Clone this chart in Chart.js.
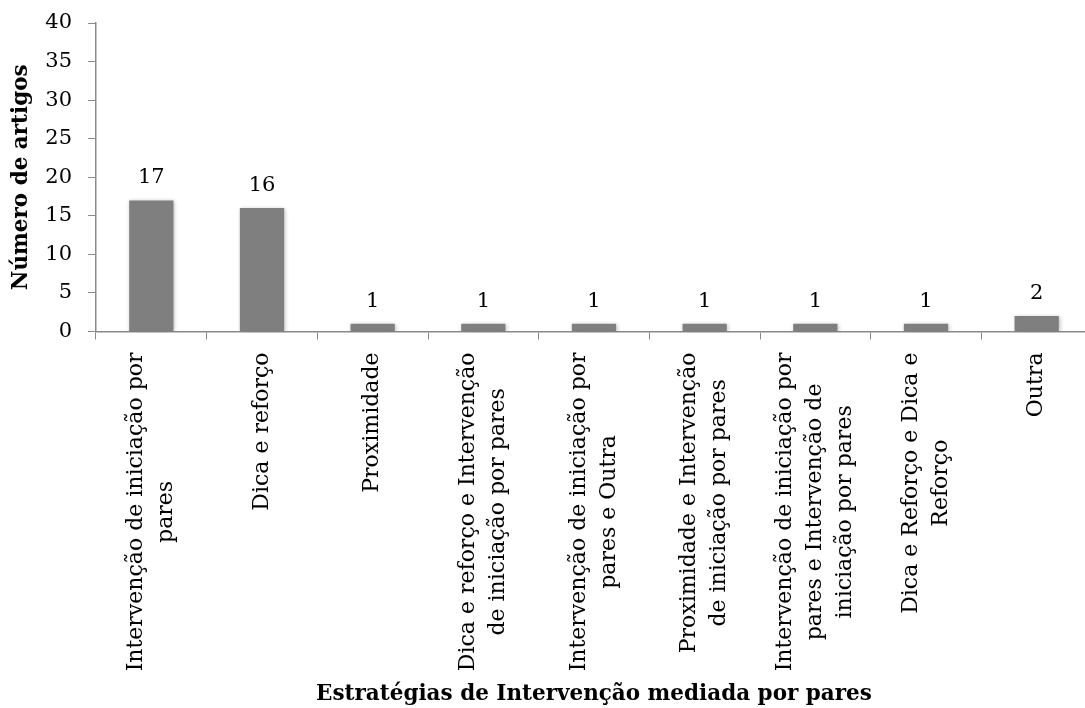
<!DOCTYPE html>
<html lang="pt">
<head>
  <meta charset="UTF-8">
  <title>Estratégias de Intervenção mediada por pares</title>
  <script src="https://cdn.jsdelivr.net/npm/chart.js"></script>
  <style>
    * { margin: 0; padding: 0; box-sizing: border-box; }
    body { background: #fff; overflow: hidden; width: 1085px; height: 708px; }
    .chart-box { position: relative; width: 1092px; height: 708px; }
  </style>
</head>
<body>
  <div class="chart-box">
    <canvas id="estrategiasChart"></canvas>
  </div>

  <script>
    // Categories (each entry = lines of the rotated axis label)
    const categorias = [
      ['Intervenção de iniciação por', 'pares'],
      ['Dica e reforço'],
      ['Proximidade'],
      ['Dica e reforço e Intervenção', 'de iniciação por pares'],
      ['Intervenção de iniciação por', 'pares e Outra'],
      ['Proximidade e Intervenção', 'de iniciação por pares'],
      ['Intervenção de iniciação por', 'pares e Intervenção de', 'iniciação por pares'],
      ['Dica e Reforço e Dica e', 'Reforço'],
      ['Outra']
    ];
    const numeroArtigos = [17, 16, 1, 1, 1, 1, 1, 1, 2];
    const yTicks = [0, 5, 10, 15, 20, 25, 30, 35, 40];

    const serif = "'DejaVu Serif', serif";
    const axisGray = '#8a8a8a';

    // soft shadow under the bars
    const barShadow = {
      id: 'barShadow',
      beforeDatasetsDraw(chart) {
        const ctx = chart.ctx;
        ctx.save();
        ctx.shadowColor = 'rgba(0,0,0,0.28)';
        ctx.shadowBlur = 4;
        ctx.shadowOffsetX = 1;
        ctx.shadowOffsetY = 1;
      },
      afterDatasetsDraw(chart) {
        chart.ctx.restore();
      }
    };

    // value above each bar
    const valueLabels = {
      id: 'valueLabels',
      afterDatasetsDraw(chart) {
        const ctx = chart.ctx;
        const meta = chart.getDatasetMeta(0);
        ctx.save();
        ctx.font = '21px ' + serif;
        ctx.fillStyle = '#000';
        ctx.textAlign = 'center';
        ctx.textBaseline = 'alphabetic';
        meta.data.forEach((bar, i) => {
          ctx.fillText(String(numeroArtigos[i]), bar.x, bar.y - 17);
        });
        ctx.restore();
      }
    };

    // rotated category labels, lines centred on each other
    const categoryLabels = {
      id: 'categoryLabels',
      afterDraw(chart) {
        const ctx = chart.ctx;
        const xScale = chart.scales.x;
        const top = xScale.top + 21;
        const lineH = 30;
        ctx.save();
        ctx.font = '22px ' + serif;
        ctx.fillStyle = '#000';
        ctx.textAlign = 'center';
        ctx.textBaseline = 'middle';
        categorias.forEach((lines, i) => {
          const x = xScale.getPixelForValue(i);
          const w = Math.max(...lines.map(l => ctx.measureText(l).width));
          ctx.save();
          ctx.translate(x, top);
          ctx.rotate(-Math.PI / 2);
          lines.forEach((line, k) => {
            const off = (k - (lines.length - 1) / 2) * lineH;
            ctx.fillText(line, -w / 2, off);
          });
          ctx.restore();
        });
        ctx.restore();
      }
    };

    new Chart(document.getElementById('estrategiasChart'), {
      type: 'bar',
      data: {
        labels: categorias.map(l => l.join(' ')),
        datasets: [{
          label: 'Número de artigos',
          data: numeroArtigos,
          backgroundColor: '#7f7f7f',
          borderWidth: 0,
          barPercentage: 0.4,
          categoryPercentage: 1.0
        }]
      },
      options: {
        responsive: true,
        maintainAspectRatio: false,
        animation: false,
        layout: { padding: { top: 23, right: 0, bottom: 0, left: 0 } },
        plugins: {
          legend: { display: false },
          tooltip: { enabled: false }
        },
        scales: {
          x: {
            grid: {
              display: true,
              drawOnChartArea: false,
              drawTicks: true,
              tickLength: 8,
              color: axisGray,
              offset: true
            },
            border: { display: true, color: axisGray, width: 1.5 },
            ticks: { display: false },
            title: {
              display: true,
              text: 'Estratégias de Intervenção mediada por pares',
              font: { family: serif, size: 21.5, weight: 'bold' },
              color: '#000',
              padding: { top: 0, bottom: 1 }
            },
            afterFit(scale) { scale.height = 376.5; }
          },
          y: {
            min: 0,
            max: 40,
            afterBuildTicks(scale) {
              scale.ticks = yTicks.map(v => ({ value: v }));
            },
            grid: {
              display: true,
              drawOnChartArea: false,
              drawTicks: true,
              tickLength: 8,
              color: axisGray
            },
            border: { display: true, color: axisGray, width: 1.5 },
            ticks: {
              font: { family: serif, size: 21 },
              color: '#000',
              padding: 16
            },
            title: {
              display: true,
              text: 'Número de artigos',
              font: { family: serif, size: 21.5, weight: 'bold' },
              color: '#000',
              padding: { top: 9, bottom: 0 }
            },
            afterFit(scale) {
              scale.width = 96;
              scale.paddingTop = 0;
              scale.paddingBottom = 0;
            }
          }
        }
      },
      plugins: [barShadow, valueLabels, categoryLabels]
    });
  </script>
</body>
</html>
